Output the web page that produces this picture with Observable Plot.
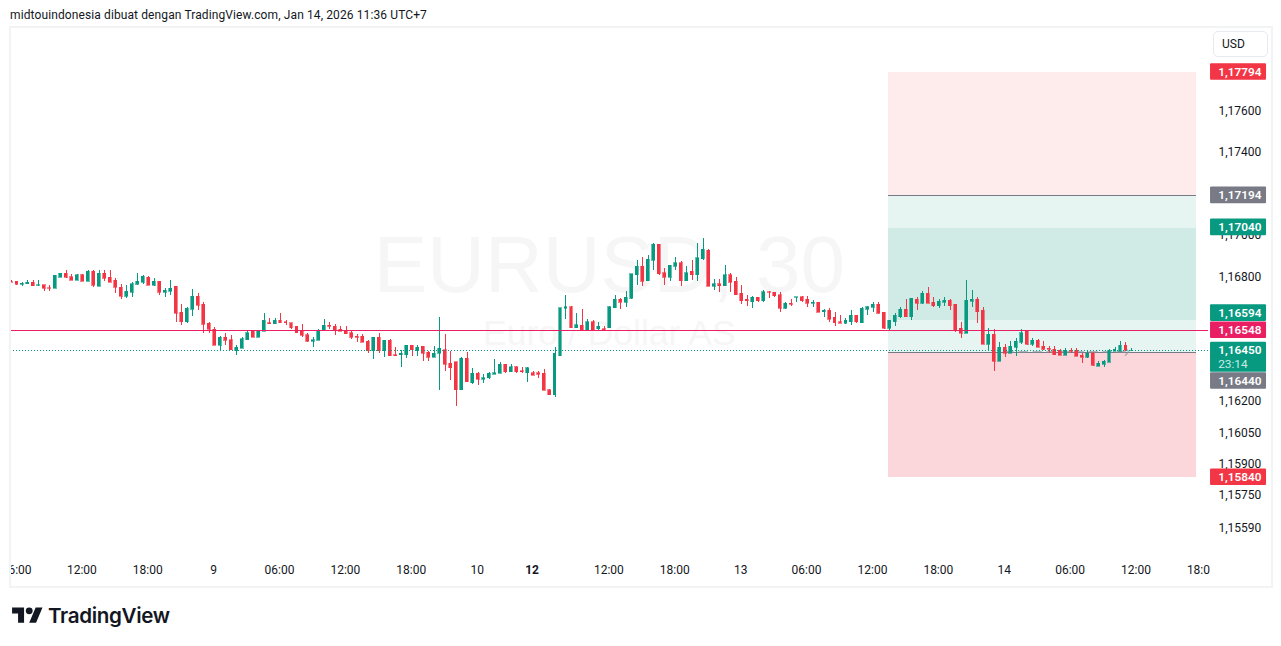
<!DOCTYPE html>
<html><head><meta charset="utf-8">
<script src="https://cdn.jsdelivr.net/npm/d3@7"></script>
<script src="https://cdn.jsdelivr.net/npm/@observablehq/plot@0.6"></script>
<style>
html,body{margin:0;padding:0;background:#fff;overflow:hidden;width:1281px;height:646px}
#chart{position:absolute;left:0;top:0}
#title{position:absolute;left:10px;top:7px;font:12px/16px Roboto,sans-serif;letter-spacing:.11px;color:#131722;white-space:nowrap;z-index:3}
#frame{position:absolute;left:9px;top:26px;width:1260px;height:558px;border:2px solid #f2f3f5;pointer-events:none;z-index:2}
#leftcut{position:absolute;left:0;top:555px;width:9px;height:30px;background:#fff;z-index:2}
#usd{position:absolute;left:1213px;top:31px;width:45px;height:24px;padding-left:8px;border:1px solid #e8eaef;border-radius:5px;font:12px/25px Roboto,sans-serif;color:#131722;z-index:3}
#logo{position:absolute;left:12px;top:604px;z-index:3}
#logotext{position:absolute;left:48px;top:602px;font:600 20.6px/28px Inter,sans-serif;letter-spacing:-.35px;color:#131722;z-index:3}
</style></head><body>
<div id="title">midtouindonesia dibuat dengan TradingView.com, Jan 14, 2026 11:36 UTC+7</div>
<div id="chart"></div>
<div id="frame"></div><div id="leftcut"></div>
<div id="usd">USD</div>
<svg id="logo" width="31" height="24" viewBox="0 0 36 28" fill="#131722"><path d="M14 22H7V11H0V4h14v18zM28 22h-8l7.5-18h8L28 22z"/><circle cx="20" cy="8" r="4"/></svg>
<div id="logotext">TradingView</div>
<script>
// Prices are written in points above 1.16000 (781 = 1,16781). One entry per 30-minute bar.
const opens=[781,781,768,771,776,762,765,751,747,802,
820,804,786,812,781,829,757,820,800,786,
752,709,728,767,776,800,762,781,728,733,
757,632,588,646,709,670,579,550,473,511,
501,448,458,501,540,511,540,583,578,593,
588,583,564,540,525,492,497,545,569,564,
550,545,535,516,516,492,448,511,448,497,
429,429,429,473,448,468,439,415,434,453,
386,395,260,410,294,338,309,318,333,338,
381,347,371,352,342,342,342,338,260,236,
424,651,660,559,569,549,588,554,554,559,
655,694,680,699,814,853,785,882,959,824,
800,853,872,785,829,814,891,930,757,771,
761,814,781,723,694,684,704,689,732,728,
718,651,675,704,708,694,675,680,636,641,
608,588,579,588,617,583,646,656,670,632,
555,588,612,646,612,694,675,723,680,665,
680,690,670,555,531,685,694,641,478,526,
396,463,434,463,487,540,478,497,468,458,
454,449,425,449,449,425,415,434,372,381,
391,444,444,473,449];
const highs=[786,781,776,786,786,786,765,762,810,824,
834,815,815,815,834,834,834,834,834,796,
767,762,776,824,810,805,796,781,747,786,
757,670,656,743,723,680,588,560,516,535,
525,477,511,540,545,545,631,603,603,627,
593,583,564,578,535,511,554,598,588,574,
564,564,540,530,530,501,511,535,501,506,
463,453,473,473,473,468,448,468,612,530,
448,395,415,439,362,347,333,347,405,391,
381,381,376,371,371,352,352,357,265,463,
655,718,665,631,646,598,593,588,564,665,
718,699,737,819,882,901,906,964,959,848,
862,901,877,853,882,964,988,935,795,795,
862,824,800,766,718,713,708,742,737,732,
728,680,694,708,713,713,690,680,646,651,
632,617,603,641,617,660,665,680,680,636,
593,627,660,694,699,708,733,752,708,694,
708,694,670,588,786,738,704,656,555,550,
487,482,492,507,550,540,507,502,492,468,
468,454,458,458,458,434,444,439,396,401,
454,463,492,487,458];
const lows=[778,762,759,768,759,759,735,735,747,802,
796,786,786,781,781,752,757,781,776,723,
694,699,704,762,767,762,757,714,704,718,
588,569,579,613,641,531,531,473,444,477,
453,429,458,501,511,511,540,574,578,583,
569,550,535,511,487,463,497,540,554,521,
540,530,506,487,487,434,405,434,415,424,
424,371,410,420,424,400,400,415,260,352,
304,183,256,299,285,280,294,313,333,338,
342,347,342,342,299,328,318,256,232,222,
424,602,559,559,540,549,549,540,540,559,
655,646,660,694,766,761,785,838,814,766,
781,838,761,781,790,785,882,757,742,732,
761,732,718,670,665,655,684,684,699,704,
636,646,665,684,680,660,660,632,612,588,
564,579,574,569,583,583,617,632,622,550,
540,564,603,612,593,641,670,675,656,651,
665,641,536,507,531,660,579,478,444,348,
396,415,434,420,478,473,468,463,449,434,
429,425,425,434,420,386,410,372,372,367,
391,444,444,444,444];
const closes=[778,768,773,776,759,765,747,747,810,820,
802,786,812,781,829,762,820,796,776,752,
709,733,771,781,805,762,781,728,738,747,
627,588,651,709,666,574,550,473,511,497,
453,463,506,535,511,545,593,578,593,583,
583,559,535,521,492,501,545,569,564,545,
540,530,511,511,487,448,511,448,497,424,
424,434,473,453,463,434,415,434,458,381,
366,260,410,299,338,309,318,338,342,381,
347,371,347,347,366,328,333,256,236,434,
655,660,559,573,545,588,549,564,549,660,
694,680,704,819,853,781,887,959,819,800,
858,872,785,824,814,896,935,757,771,761,
814,776,718,689,689,704,689,732,728,713,
651,675,670,708,689,675,680,632,641,598,
583,579,593,617,588,651,660,670,627,555,
593,617,646,612,699,675,723,675,665,685,
690,665,545,531,690,694,636,478,526,396,
463,434,468,492,535,478,497,463,454,454,
429,425,449,444,420,415,434,377,386,396,
449,454,473,449,450];

const priceTicks=[1.176,1.174,1.17,1.168,1.162,1.1605,1.159,1.1575,1.1559];
const timeTicks=[1.73,13,25,37,49,61,73,85,109,121,133,145,157,169,181,193,205,216.38];
const timeLabels=["6:00","12:00","18:00","9","06:00","12:00","18:00","10","12:00","18:00","13","06:00","12:00","18:00","14","06:00","12:00","18:0"];
const boldTick=[95], boldLabel=["12"];

const zoneTops=[1.17792,1.17194,1.1704,1.16594,1.1644];
const zoneBottoms=[1.17194,1.1704,1.16594,1.1644,1.1584];
const zoneColors=["#feecec","#e6f5f2","#d0ebe6","#e6f5f2","#fbd7db"];

const tagLabels=["1,17794","1,17194","1,17040","1,16594","1,16548","1,16450","1,16440","1,15840"];
const tagLevels=[1.17792,1.17198,1.17044,1.16631,1.16548,1.1645,1.16304,1.1584];
const tagColors=["#f23645","#787b86","#089981","#089981","#e91e63","#089981","#787b86","#f23645"];

const GREEN="#089981",RED="#f23645",INK="#131722";
const price=v=>1.16+v*1e-5;
const candles=opens.map((o,i)=>({i,open:price(o),high:price(highs[i]),low:price(lows[i]),close:price(closes[i]),
  color:closes[i]>=o?GREEN:RED}));
const comma=d=>d.toFixed(5).replace(".",",");
const zones=zoneTops.map((t,k)=>({top:t,bottom:zoneBottoms[k],color:zoneColors[k]}));
const tags=tagLabels.map((label,k)=>({label,level:tagLevels[k],color:tagColors[k]}));
const tagHalf=0.0004, tagLeft=218.4, tagRight=228.6, tagTextX=219.8;
const zoneLeft=159.75, zoneRight=215.85, barHalf=0.27;
const WM="'Liberation Sans',sans-serif";

const chart=Plot.plot({
  width:1281,height:646,
  marginTop:27,marginBottom:90,marginLeft:10,marginRight:73,
  style:{background:"#fff",fontFamily:"Roboto,sans-serif"},
  x:{domain:[-0.182,218.03]},
  y:{domain:[1.154586,1.180064]},
  marks:[
    Plot.text(["EURUSD, 30"],{x:108.9,y:1.16858,text:d=>d,fontSize:80,fill:"#f6f6f7",fontFamily:WM}),
    Plot.text(["Euro / Dollar AS"],{x:108.9,y:1.1653,text:d=>d,fontSize:35.5,fill:"#f6f6f7",fontFamily:WM}),
    Plot.rect(zones,{x1:zoneLeft,x2:zoneRight,y1:"bottom",y2:"top",fill:{value:d=>d.color,scale:null},shapeRendering:"crispEdges"}),
    Plot.ruleY([1.17197,1.1644],{x1:zoneLeft,x2:zoneRight,stroke:"#787b86",strokeWidth:1,shapeRendering:"crispEdges"}),
    Plot.line([{i:181,p:1.16445},{i:203,p:1.16445}],{x:"i",y:"p",stroke:"#9598a1",strokeWidth:1.5,strokeDasharray:"8 6",strokeOpacity:.7}),
    Plot.line([{i:202.9,p:1.16462},{i:203.5,p:1.16445},{i:202.9,p:1.16428}],{x:"i",y:"p",stroke:"#9598a1",strokeWidth:1.5,strokeOpacity:.7}),
    Plot.ruleX(candles,{x:"i",y1:"low",y2:"high",stroke:{value:d=>d.color,scale:null},strokeWidth:1,shapeRendering:"crispEdges"}),
    Plot.rect(candles,{x1:d=>d.i-barHalf,x2:d=>d.i+barHalf,y1:d=>Math.min(d.open,d.close),y2:d=>Math.max(d.open,d.close),
      fill:{value:d=>d.color,scale:null},stroke:{value:d=>d.color,scale:null},strokeWidth:.6,shapeRendering:"crispEdges"}),
    Plot.ruleY([1.1645],{stroke:GREEN,strokeWidth:1,strokeDasharray:"1 2",shapeRendering:"crispEdges"}),
    Plot.ruleY([1.16548],{stroke:"#e91e63",strokeWidth:1,shapeRendering:"crispEdges"}),
    Plot.axisY({ticks:priceTicks,anchor:"right",tickSize:0,tickPadding:10,tickFormat:comma,dy:-1,fontSize:12,fill:INK,label:null,textStroke:"none"}),
    Plot.axisX({ticks:timeTicks,anchor:"bottom",tickSize:0,tickPadding:9,dx:-1,tickFormat:d=>timeLabels[timeTicks.indexOf(d)],fontSize:12,fill:INK,label:null}),
    Plot.axisX({ticks:boldTick,anchor:"bottom",tickSize:0,tickPadding:9,dx:-1,tickFormat:d=>boldLabel[boldTick.indexOf(d)],fontSize:12,fontWeight:700,fill:INK,label:null}),
    Plot.rect(tags,{x1:tagLeft,x2:tagRight,y1:d=>d.level-tagHalf,y2:d=>d.level+tagHalf,fill:{value:d=>d.color,scale:null},rx:1}),
    Plot.rect([1.16386],{x1:tagLeft,x2:tagRight,y1:d=>d-tagHalf,y2:d=>d+tagHalf,fill:GREEN}),
    Plot.text(tags,{x:tagTextX,y:"level",text:"label",textAnchor:"start",fill:"#fff",fontSize:11.8,fontWeight:600}),
    Plot.text(["23:14"],{x:tagTextX,y:1.16386,text:d=>d,textAnchor:"start",fill:"#c9ebe5",fontSize:11.8})
  ]
});
document.getElementById("chart").append(chart);
</script>
</body></html>
